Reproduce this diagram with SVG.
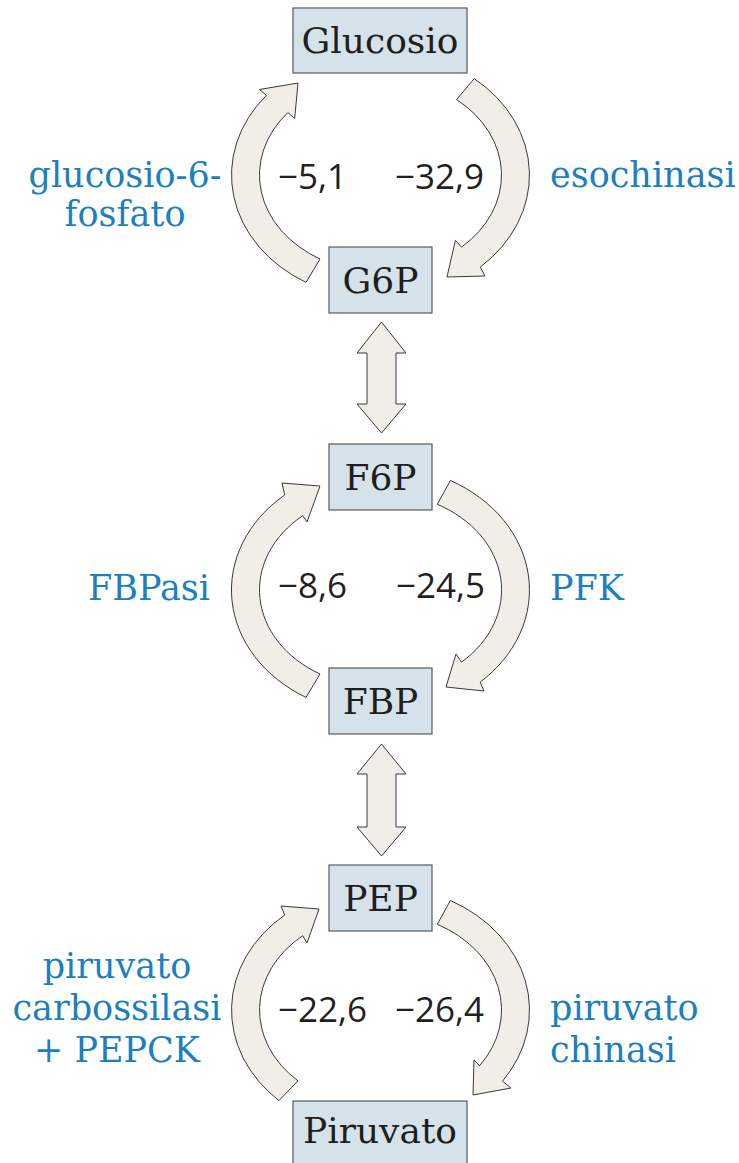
<svg xmlns="http://www.w3.org/2000/svg" width="739" height="1163" viewBox="0 0 739 1163">
<style>
.box{fill:#d6e2ea;stroke:#555b60;stroke-width:1.2}
.bl{font-family:"DejaVu Serif","Liberation Serif",serif;font-size:36px;fill:#1e1e1e;text-anchor:middle}
.en{font-family:"DejaVu Serif","Liberation Serif",serif;font-size:35px;fill:#1b7fc2}
.num{font-family:"Open Sans","Liberation Sans",sans-serif;font-size:35px;fill:#231f20}
.arr{fill:#f0eee6;stroke:#3a3a3a;stroke-width:1;stroke-linejoin:miter}
</style>
<rect width="739" height="1163" fill="#ffffff"/>
<g id="connectors">
<path class="arr" d="M306,282.4 A149,124 0 0 1 266.4,95.3 L259.5,89.5 L298,83 L294.7,118.4 L287.8,112.6 A121,97 0 0 0 320,259 Z"/>
<path class="arr" d="M474.2,78.6 A149,124 0 0 1 480.2,267.1 L485,276 L447,277 L455.4,240.4 L461.5,247.1 A121,97 0 0 0 456.6,99.6 Z"/>
<path class="arr" d="M381.5,322 L406,353 L396,353 L396,404 L406,404 L381.5,433 L357,404 L367,404 L367,353 L357,353 Z"/>
<path class="arr" d="M306,697.4 A149,124 0 0 1 284.7,495 L282,483 L320,486 L307,522 L302.7,515.7 A121,97 0 0 0 320,674 Z"/>
<path class="arr" d="M450.4,480.5 A149,124 0 0 1 480.2,682.1 L484,691 L446,687 L456,654 L461.5,662.1 A121,97 0 0 0 437.3,504.3 Z"/>
<path class="arr" d="M381.5,744 L406,774 L396,774 L396,827 L406,827 L381.5,856 L357,827 L367,827 L367,774 L357,774 Z"/>
<path class="arr" d="M278.9,1100.6 A149,124 0 0 1 284.7,915 L281,906 L319,909 L307,943 L302.7,935.7 A121,97 0 0 0 298,1080.9 Z"/>
<path class="arr" d="M450.4,900.5 A149,124 0 0 1 502.5,1081.2 L511,1088 L473,1095 L474,1060 L479.6,1065.7 A121,97 0 0 0 437.3,924.3 Z"/>
</g>
<g id="glucosio"><rect class="box" x="293" y="8" width="174" height="65"/><text class="bl" x="380" y="53">Glucosio</text></g>
<g id="g6p"><rect class="box" x="329" y="247" width="103" height="66"/><text class="bl" x="380.5" y="293">G6P</text></g>
<g id="f6p"><rect class="box" x="329" y="444" width="103" height="66"/><text class="bl" x="380.5" y="490">F6P</text></g>
<g id="fbp"><rect class="box" x="329" y="668" width="103" height="66"/><text class="bl" x="380.5" y="714">FBP</text></g>
<g id="pep"><rect class="box" x="329" y="865" width="103" height="66"/><text class="bl" x="380.5" y="911">PEP</text></g>
<g id="piruvato"><rect class="box" x="293" y="1101" width="174" height="70"/><text class="bl" x="380" y="1143">Piruvato</text></g>
<g id="labels">
<text class="en" x="125" y="187" text-anchor="middle">glucosio-6-</text>
<text class="en" x="125" y="226" text-anchor="middle">fosfato</text>
<text class="en" x="550" y="187">esochinasi</text>
<text class="en" x="149" y="600" text-anchor="middle">FBPasi</text>
<text class="en" x="550" y="600">PFK</text>
<text class="en" x="117" y="978" text-anchor="middle">piruvato</text>
<text class="en" x="117" y="1020" text-anchor="middle">carbossilasi</text>
<text class="en" x="117" y="1062" text-anchor="middle">+ PEPCK</text>
<text class="en" x="550" y="1020">piruvato</text>
<text class="en" x="550" y="1062">chinasi</text>
</g>
<g id="values">
<text class="num" x="278" y="189">−5,1</text>
<text class="num" x="395" y="189">−32,9</text>
<text class="num" x="278" y="598">−8,6</text>
<text class="num" x="396" y="598">−24,5</text>
<text class="num" x="278" y="1022">−22,6</text>
<text class="num" x="395" y="1022">−26,4</text>
</g>
</svg>
